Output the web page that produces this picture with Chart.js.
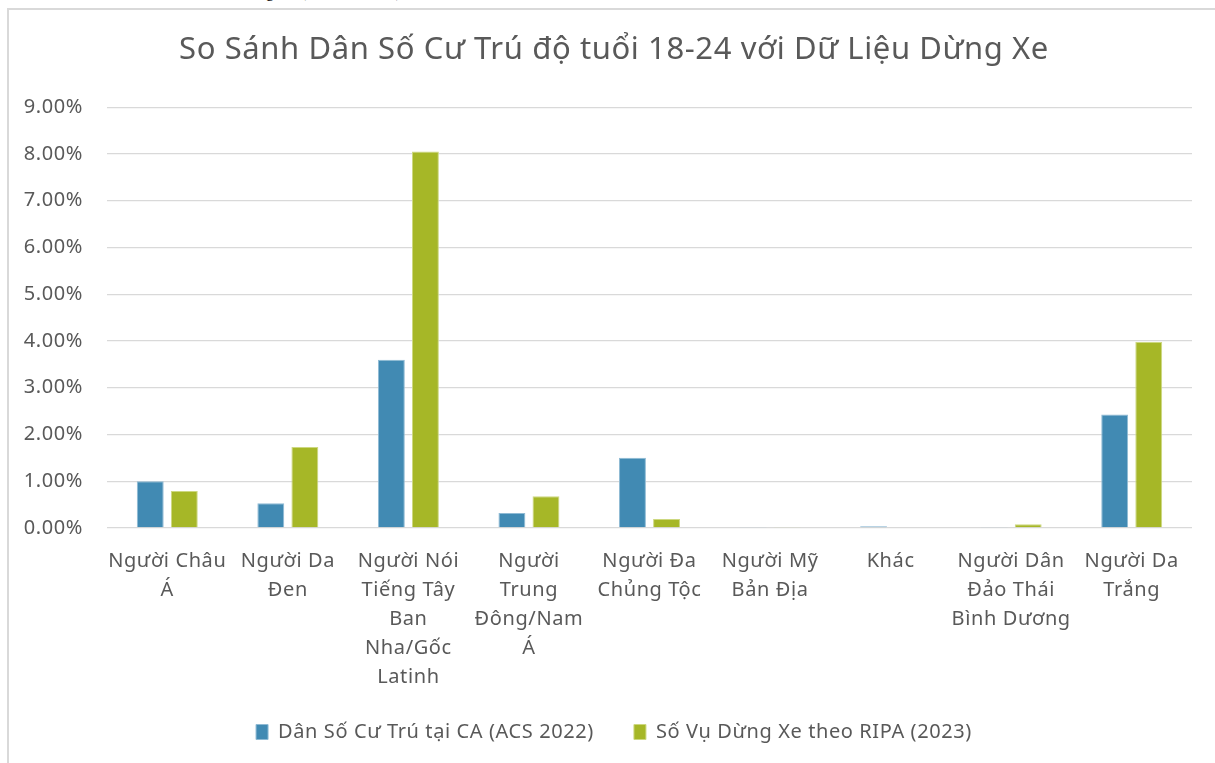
<!DOCTYPE html>
<html>
<head>
<meta charset="utf-8">
<script src="https://cdn.jsdelivr.net/npm/chart.js@4.4.1/dist/chart.umd.min.js"></script>
<style>
  html, body { margin: 0; padding: 0; background: #fff; overflow: hidden; }
  body { width: 1215px; height: 763px; position: relative; }
  #caption {
    position: absolute; left: 0; top: -17px; white-space: nowrap;
    font-family: "Liberation Serif", serif; font-size: 16px; color: #000;
  }
  #frame {
    position: absolute; left: 7px; top: 8px; width: 1220px; height: 770px;
    border-left: 2px solid #d9d9d9; border-top: 2px solid #d9d9d9;
  }
  #wrap { position: absolute; left: 0; top: 0; width: 1206px; height: 755px; }
</style>
</head>
<body>
<div id="caption">So sánh Dân Số Cư Trú với Dữ Liệu Dừng Xe (Độ tuổi 18-24)</div>
<div id="frame"><div id="wrap"><canvas id="chart"></canvas></div></div>
<script>
const chartTitle = 'So Sánh Dân Số Cư Trú độ tuổi 18-24 với Dữ Liệu Dừng Xe';

const categories = [
  ['Người Châu', 'Á'],
  ['Người Da', 'Đen'],
  ['Người Nói', 'Tiếng Tây', 'Ban', 'Nha/Gốc', 'Latinh'],
  ['Người', 'Trung', 'Đông/Nam', 'Á'],
  ['Người Đa', 'Chủng Tộc'],
  ['Người Mỹ', 'Bản Địa'],
  ['Khác'],
  ['Người Dân', 'Đảo Thái', 'Bình Dương'],
  ['Người Da', 'Trắng']
];

const seriesNames = ['Dân Số Cư Trú tại CA (ACS 2022)', 'Số Vụ Dừng Xe theo RIPA (2023)'];

// percent values
const acsValues  = [1.00, 0.53, 3.60, 0.32, 1.50, 0.02, 0.04, 0.02, 2.43];
const ripaValues = [0.79, 1.73, 8.05, 0.68, 0.19, 0.02, 0.00, 0.08, 3.98];

const yTicks = [0, 1, 2, 3, 4, 5, 6, 7, 8, 9];

const textColor = '#595959';
const fontFamily = '"Noto Sans", "Open Sans", sans-serif';

// the original text is set a little wider than Noto Sans
const letterSpacing = {
  id: 'letterSpacing',
  beforeUpdate(chart) { chart.ctx.letterSpacing = '0.6px'; },
  beforeDraw(chart) { chart.ctx.letterSpacing = '0.6px'; }
};

new Chart(document.getElementById('chart'), {
  type: 'bar',
  plugins: [letterSpacing],
  data: {
    labels: categories,
    datasets: [
      {
        label: seriesNames[0],
        data: acsValues,
        backgroundColor: '#418ab3',
        borderColor: '#8fbad4',
        borderWidth: 1,
        barPercentage: 0.79,
        categoryPercentage: 0.565
      },
      {
        label: seriesNames[1],
        data: ripaValues,
        backgroundColor: '#a6b727',
        borderColor: '#cdd880',
        borderWidth: 1,
        barPercentage: 0.79,
        categoryPercentage: 0.565
      }
    ]
  },
  options: {
    responsive: true,
    maintainAspectRatio: false,
    animation: false,
    layout: { padding: { left: 27, right: 23, bottom: 13, top: 0 } },
    plugins: {
      title: {
        display: true,
        text: chartTitle,
        color: textColor,
        font: { family: fontFamily, size: 31, weight: 'normal' },
        padding: { top: 22, bottom: 38 }
      },
      legend: {
        position: 'bottom',
        labels: {
          color: textColor,
          font: { family: fontFamily, size: 20 },
          boxWidth: 12,
          boxHeight: 15,
          padding: 40
        }
      },
      tooltip: { enabled: false }
    },
    scales: {
      x: {
        grid: { display: false },
        border: { display: false },
        afterFit: axis => {
          // pull the legend up closer to the labels, without clipping them
          axis.height -= 21;
          axis._computeLabelArea = () => undefined;
        },
        ticks: {
          color: textColor,
          font: { family: fontFamily, size: 20, lineHeight: 1.45 },
          maxRotation: 0,
          autoSkip: false,
          padding: 11
        }
      },
      y: {
        min: 0,
        max: 9,
        afterBuildTicks: axis => { axis.ticks = yTicks.map(v => ({ value: v })); },
        afterFit: axis => {
          axis.width = 71;
          axis._computeLabelArea = () => undefined;
        },
        grid: { color: '#d9d9d9', lineWidth: 1.3, drawTicks: false },
        border: { display: false },
        ticks: {
          color: textColor,
          font: { family: fontFamily, size: 20 },
          padding: 24,
          callback: v => v.toFixed(2) + '%'
        }
      }
    }
  }
});
</script>
</body>
</html>
